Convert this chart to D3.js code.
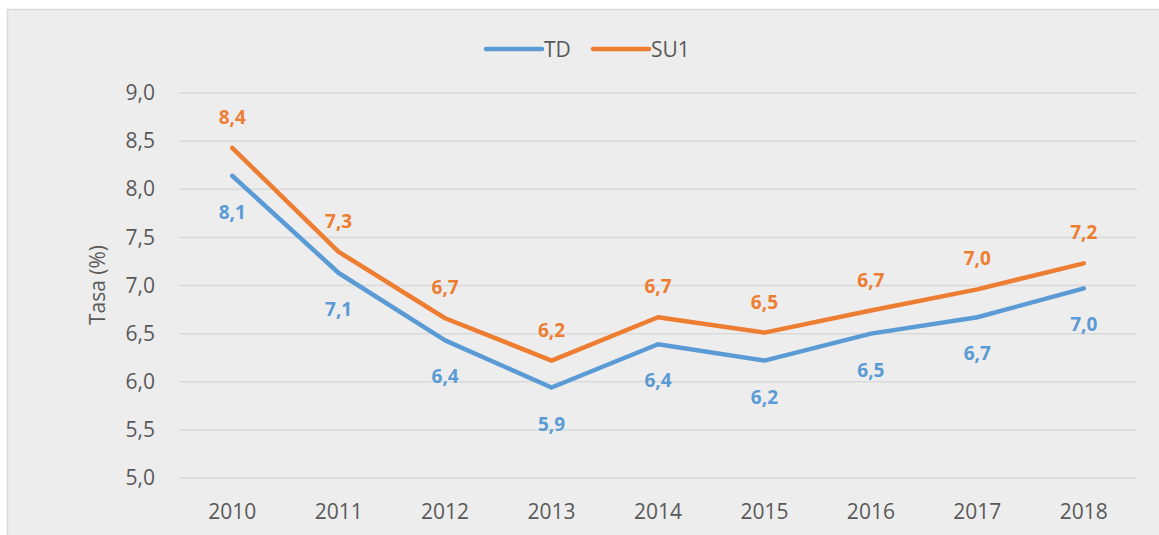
<!DOCTYPE html>
<html>
<head>
<meta charset="utf-8">
<script src="https://d3js.org/d3.v7.min.js"></script>
<style>
  body { margin: 0; background: #fff; }
  text { font-family: "Open Sans", sans-serif; }
</style>
</head>
<body>
<div id="chart"></div>
<script>
// data
const years = ["2010","2011","2012","2013","2014","2015","2016","2017","2018"];
const tdValues  = [8.14, 7.13, 6.43, 5.94, 6.39, 6.22, 6.50, 6.67, 6.97];
const su1Values = [8.43, 7.35, 6.66, 6.22, 6.67, 6.51, 6.74, 6.96, 7.23];
const yTicks = [5.0, 5.5, 6.0, 6.5, 7.0, 7.5, 8.0, 8.5, 9.0];

const series = [
  { name: "TD",  values: tdValues,  color: "#5B9BD5", labelDy: 43 },
  { name: "SU1", values: su1Values, color: "#ED7D31", labelDy: -24 }
];

const W = 1159, H = 535;
const svg = d3.select("#chart").append("svg").attr("width", W).attr("height", H);

// chart area background + border
svg.append("rect").attr("x", 7.5).attr("y", 9.5).attr("width", W).attr("height", H)
  .attr("fill", "#EDEDED").attr("stroke", "#D9D9D9").attr("stroke-width", 1.5);

const x = d3.scaleBand().domain(years).range([179, 1137]);
const y = d3.scaleLinear().domain([5, 9]).range([478, 93]);

// gridlines
svg.append("g").selectAll("line").data(yTicks).join("line")
  .attr("x1", 179).attr("x2", 1137)
  .attr("y1", d => y(d)).attr("y2", d => y(d))
  .attr("stroke", "#D9D9D9").attr("stroke-width", 1.5);

const fmt = v => d3.format(".1f")(v).replace(".", ",");

// y axis labels
const yAxis = svg.append("g").attr("transform", "translate(155,0)")
  .call(d3.axisLeft(y).tickValues(yTicks).tickFormat(fmt).tickSize(0).tickPadding(0));
yAxis.select(".domain").remove();
yAxis.selectAll("text").attr("fill", "#595959").style("font-size", "21px")
  .style("font-family", "'Open Sans', sans-serif");

// x axis labels
const xAxis = svg.append("g").attr("transform", "translate(0,478)")
  .call(d3.axisBottom(x).tickSize(0).tickPadding(26));
xAxis.select(".domain").remove();
xAxis.selectAll("text").attr("fill", "#595959").style("font-size", "21px")
  .style("font-family", "'Open Sans', sans-serif");

// y axis title
svg.append("text").attr("transform", "translate(105,285) rotate(-90)")
  .attr("text-anchor", "middle").attr("fill", "#595959").style("font-size", "21px")
  .text("Tasa (%)");

const line = d3.line()
  .x((d, i) => x(years[i]) + x.bandwidth() / 2)
  .y(d => y(d));

series.forEach(s => {
  svg.append("path").datum(s.values)
    .attr("d", line).attr("fill", "none")
    .attr("stroke", s.color).attr("stroke-width", 4.5)
    .attr("stroke-linecap", "round").attr("stroke-linejoin", "round");

  svg.append("g").selectAll("text").data(s.values).join("text")
    .attr("x", (d, i) => x(years[i]) + x.bandwidth() / 2)
    .attr("y", d => y(d) + s.labelDy)
    .attr("text-anchor", "middle")
    .attr("fill", s.color).style("font-size", "19px").style("font-weight", "bold")
    .text(d => fmt(d));
});

// legend
const legend = svg.append("g");
const legendX = [486, 593];
series.forEach((s, i) => {
  legend.append("line").attr("x1", legendX[i]).attr("x2", legendX[i] + 56)
    .attr("y1", 49).attr("y2", 49)
    .attr("stroke", s.color).attr("stroke-width", 4.5).attr("stroke-linecap", "round");
  legend.append("text").attr("x", legendX[i] + 58).attr("y", 57)
    .attr("fill", "#595959").style("font-size", "21px").text(s.name);
});
</script>
</body>
</html>
